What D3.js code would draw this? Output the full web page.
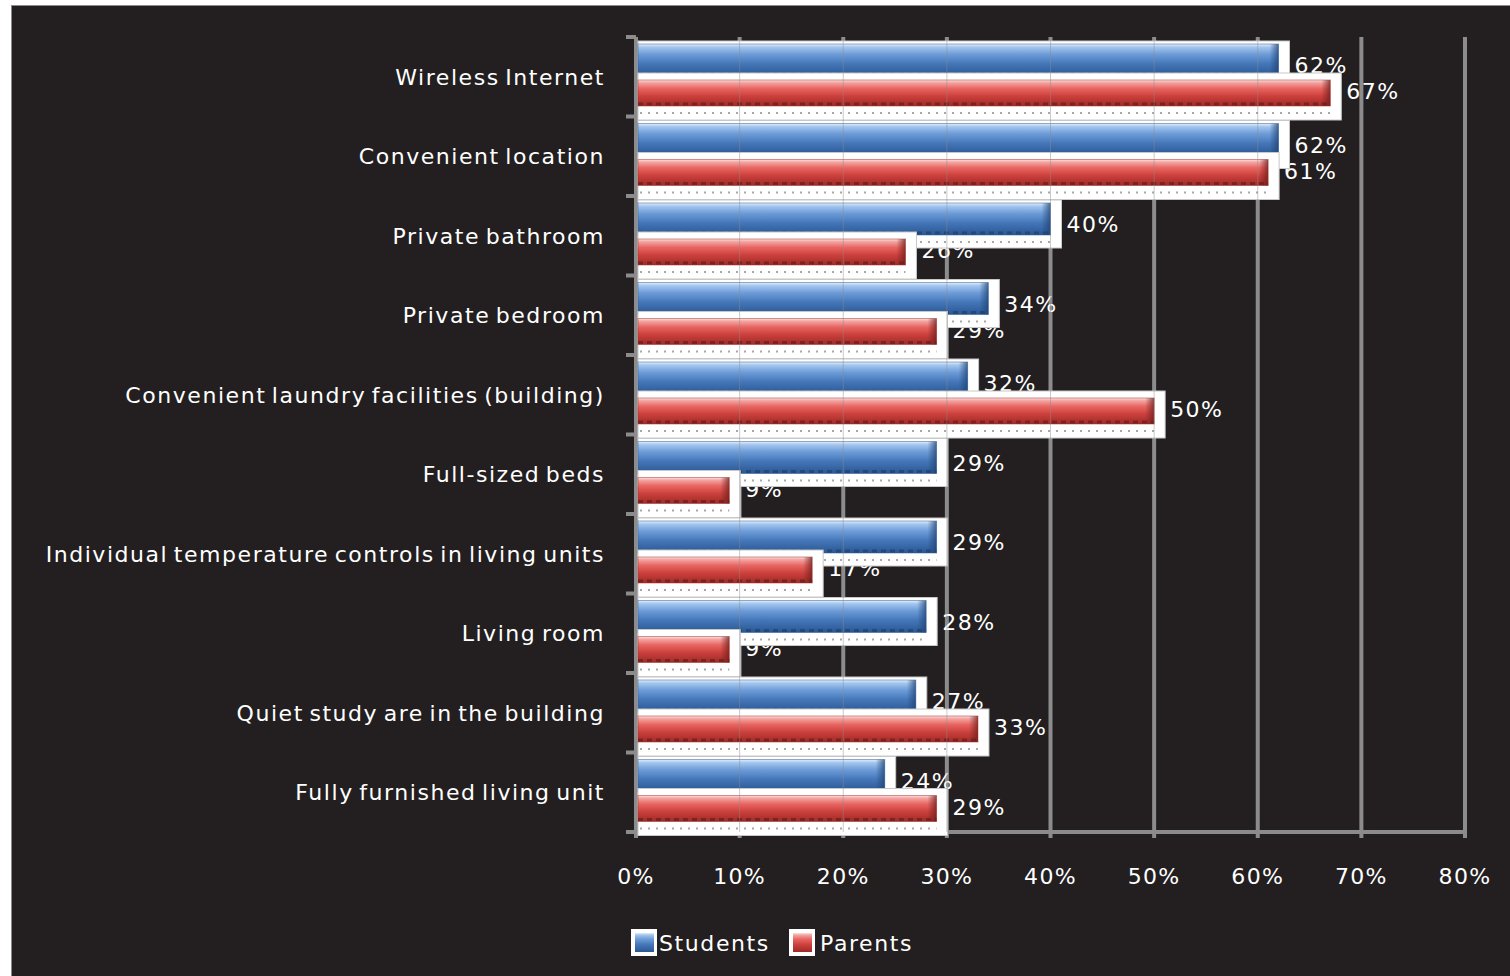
<!DOCTYPE html>
<html>
<head>
<meta charset="utf-8">
<script src="https://cdn.jsdelivr.net/npm/d3@7"></script>
<style>
  html, body { margin: 0; padding: 0; background: #ffffff; }
  svg { display: block; }
  text { font-family: "DejaVu Sans", Verdana, sans-serif; fill: #ffffff; }
</style>
</head>
<body>
<svg id="chart" width="1510" height="976"></svg>
<script>
// Housing features rated important, students vs. parents
const categories = [
  "Wireless Internet",
  "Convenient location",
  "Private bathroom",
  "Private bedroom",
  "Convenient laundry facilities (building)",
  "Full-sized beds",
  "Individual temperature controls in living units",
  "Living room",
  "Quiet study are in the building",
  "Fully furnished living unit"
];
const seriesNames = ["Students", "Parents"];
const studentValues = [0.62, 0.62, 0.40, 0.34, 0.32, 0.29, 0.29, 0.28, 0.27, 0.24];
const parentValues  = [0.67, 0.61, 0.26, 0.29, 0.50, 0.09, 0.17, 0.09, 0.33, 0.29];
const xTicks = [0, 0.1, 0.2, 0.3, 0.4, 0.5, 0.6, 0.7, 0.8];

const svg = d3.select("#chart");
const W = 1510, H = 976;
const plot = { left: 636, right: 1465, top: 37, bottom: 832 };

const x = d3.scaleLinear().domain([0, 0.8]).range([plot.left, plot.right]);
const y = d3.scaleBand().domain(categories).range([plot.top, plot.bottom]).paddingInner(0).paddingOuter(0);
const sub = d3.scaleBand().domain(seriesNames).range([7, 79]);
const pct = d3.format(".0%");

const seriesStyle = {
  Students: { stops: ["#e4eefa", "#a3c6ee", "#6d9cd8", "#4476b8", "#2b5793"], fringe: "#1f4373",
              barH: 32, boxTop: -3, boxBottom: 45, labelY: 21 },
  Parents:  { stops: ["#fbe3e2", "#f4a6a3", "#e96662", "#cc403c", "#9d2b28"], fringe: "#6e1e1c",
              barH: 26, boxTop: -7, boxBottom: 40, labelY: 11 }
};

// gradients
const defs = svg.append("defs");
seriesNames.forEach(s => {
  const st = seriesStyle[s];
  const g = defs.append("linearGradient").attr("id", "grad-" + s).attr("x1", 0).attr("y1", 0).attr("x2", 0).attr("y2", 1);
  [0, 0.1, 0.32, 0.62, 1].forEach((o, k) =>
    g.append("stop").attr("offset", o).attr("stop-color", st.stops[k]));
  const e = defs.append("linearGradient").attr("id", "end-" + s).attr("x1", 0).attr("y1", 0).attr("x2", 1).attr("y2", 0);
  e.append("stop").attr("offset", "0%").attr("stop-color", st.fringe).attr("stop-opacity", 0);
  e.append("stop").attr("offset", "100%").attr("stop-color", st.fringe).attr("stop-opacity", 0.75);
});

// dark panel
svg.append("rect").attr("x", 11.5).attr("y", 5.5).attr("width", W).attr("height", H)
  .attr("fill", "#231f20").attr("stroke", "#8a8a8a").attr("stroke-width", 1);

// vertical gridlines
svg.append("g").selectAll("line").data(xTicks.slice(1)).join("line")
  .attr("x1", d => x(d)).attr("x2", d => x(d))
  .attr("y1", plot.top).attr("y2", plot.bottom + 6)
  .attr("stroke", "#8c8c8c").attr("stroke-width", 4);

// axes
svg.append("line").attr("x1", plot.left).attr("x2", plot.left).attr("y1", plot.top).attr("y2", plot.bottom + 6)
  .attr("stroke", "#8c8c8c").attr("stroke-width", 4);
svg.append("line").attr("x1", plot.left - 10).attr("x2", plot.right).attr("y1", plot.bottom).attr("y2", plot.bottom)
  .attr("stroke", "#8c8c8c").attr("stroke-width", 4);
const catEdges = categories.map(c => y(c)).concat([plot.bottom]);
svg.append("g").selectAll("line").data(catEdges).join("line")
  .attr("x1", plot.left - 10).attr("x2", plot.left).attr("y1", d => d).attr("y2", d => d)
  .attr("stroke", "#8c8c8c").attr("stroke-width", 4);

// x tick labels
svg.append("g").selectAll("text").data(xTicks).join("text")
  .attr("x", d => x(d)).attr("y", 884)
  .attr("text-anchor", "middle").attr("font-size", 22).attr("letter-spacing", 1.3)
  .text(d => pct(d));

// category labels
svg.append("g").selectAll("text").data(categories).join("text")
  .attr("x", 605).attr("y", d => y(d) + y.bandwidth() / 2 + 8)
  .attr("text-anchor", "end").attr("font-size", 22).attr("letter-spacing", 1.55).attr("word-spacing", -3)
  .text(d => d);

const rows = categories.map((c, i) => ({ cat: c, Students: studentValues[i], Parents: parentValues[i] }));

// value labels sit underneath the bar boxes
const labelG = svg.append("g");
rows.forEach(r => {
  seriesNames.forEach(s => {
    const st = seriesStyle[s];
    const yt = y(r.cat) + sub(s);
    labelG.append("text")
      .attr("x", x(r[s]) + 16).attr("y", yt + st.labelY + 8)
      .attr("font-size", 22).attr("letter-spacing", 1.5)
      .text(pct(r[s]));
  });
});

// bars with white shadow boxes
const barG = svg.append("g");
rows.forEach(r => {
  seriesNames.forEach(s => {
    const st = seriesStyle[s];
    const yt = y(r.cat) + sub(s);
    const x0 = x(0) + 2, x1 = x(r[s]);
    barG.append("rect")
      .attr("x", x0).attr("y", yt + st.boxTop)
      .attr("width", x1 + 11 - x0).attr("height", st.boxBottom - st.boxTop)
      .attr("fill", "#ffffff").attr("stroke", "#c8c8c8").attr("stroke-width", 1);
    // grey dotted reflection
    barG.append("line")
      .attr("x1", x0 + 2).attr("x2", x1).attr("y1", yt + st.barH + 7).attr("y2", yt + st.barH + 7)
      .attr("stroke", "#a8a8a8").attr("stroke-width", 2).attr("stroke-dasharray", "2,6");
    barG.append("rect")
      .attr("x", x0).attr("y", yt).attr("width", x1 - x0).attr("height", st.barH)
      .attr("fill", `url(#grad-${s})`);
    barG.append("rect")
      .attr("x", x1 - 9).attr("y", yt).attr("width", 9).attr("height", st.barH)
      .attr("fill", `url(#end-${s})`);
    // dark dotted fringe along the bar base
    barG.append("line")
      .attr("x1", x0).attr("x2", x1).attr("y1", yt + st.barH - 2).attr("y2", yt + st.barH - 2)
      .attr("stroke", st.fringe).attr("stroke-width", 3).attr("stroke-dasharray", "5,4").attr("opacity", 0.75);
    barG.append("rect")
      .attr("x", x0).attr("y", yt).attr("width", x1 - x0).attr("height", st.barH)
      .attr("fill", "none").attr("stroke", st.stops[4]).attr("stroke-width", 1).attr("opacity", 0.5);
  });
});

// faint gridlines showing through the bars
svg.append("g").selectAll("line").data(xTicks.slice(1)).join("line")
  .attr("x1", d => x(d)).attr("x2", d => x(d))
  .attr("y1", plot.top).attr("y2", plot.bottom)
  .attr("stroke", "#8c8c8c").attr("stroke-width", 1).attr("opacity", 0.45);

// legend
const legend = svg.append("g");
const legendItems = [
  { name: "Students", sx: 631, tx: 659 },
  { name: "Parents", sx: 789, tx: 820 }
];
legendItems.forEach(it => {
  legend.append("rect").attr("x", it.sx).attr("y", 929).attr("width", 26).attr("height", 27).attr("fill", "#ffffff");
  legend.append("rect").attr("x", it.sx + 4).attr("y", 933).attr("width", 19).attr("height", 19)
    .attr("fill", `url(#grad-${it.name})`);
  legend.append("text").attr("x", it.tx).attr("y", 951)
    .attr("font-size", 22).attr("letter-spacing", 1.6).text(it.name);
});
</script>
</body>
</html>
